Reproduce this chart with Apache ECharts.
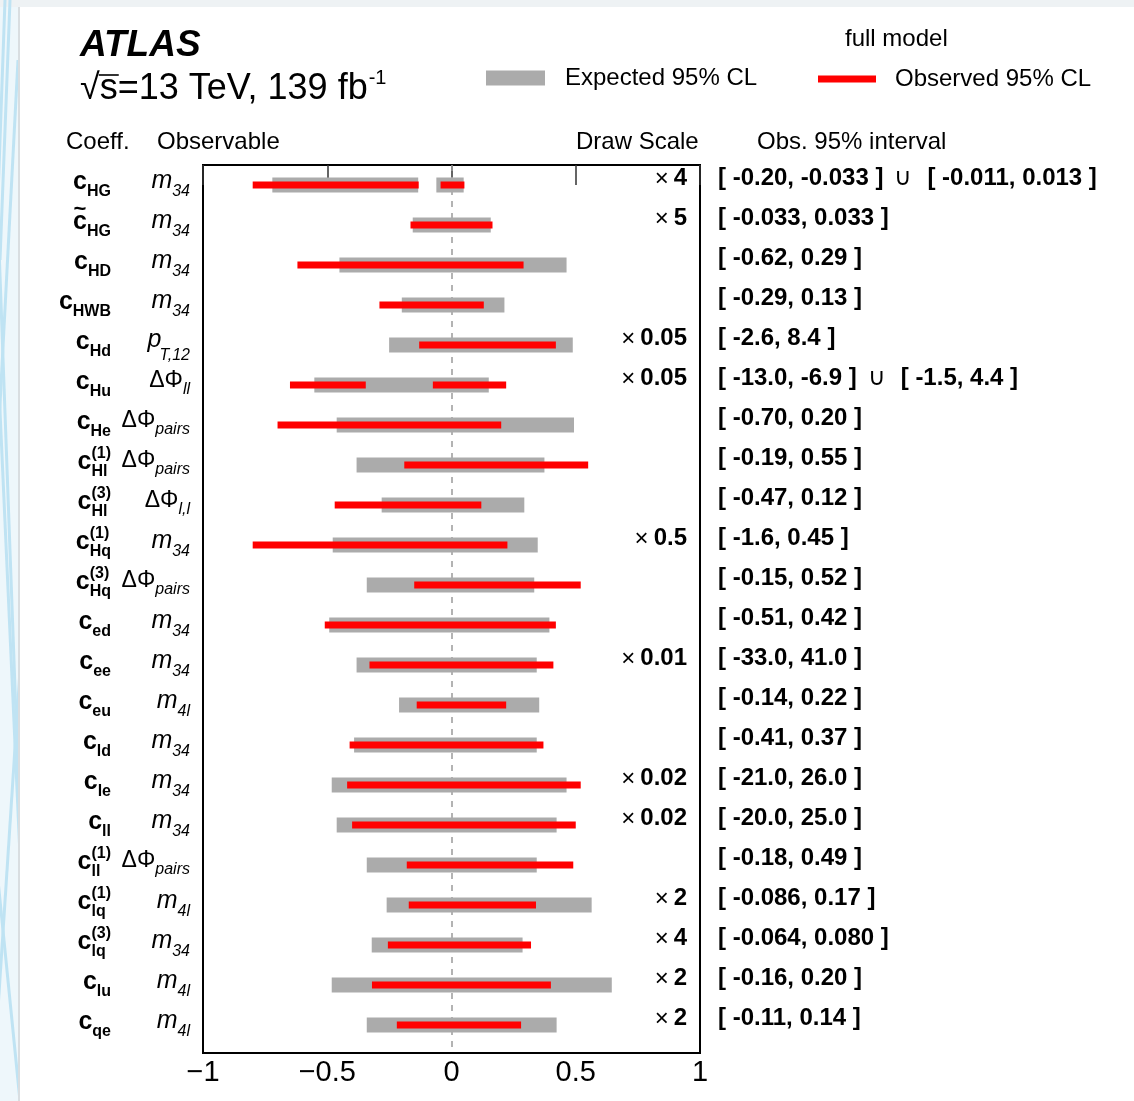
<!DOCTYPE html>
<html>
<head>
<meta charset="utf-8">
<title>ATLAS SMEFT limits</title>
<script src="https://cdn.jsdelivr.net/npm/echarts@6/dist/echarts.min.js"></script>
<style>
html,body{margin:0;padding:0;background:#fff;}
#chart{width:1134px;height:1101px;}
</style>
</head>
<body>
<div id="chart"></div>
<script>
// ---------------- data ----------------
const coeffSub = ['HG','HG','HD','HWB','Hd','Hu','He','Hl','Hl','Hq','Hq','ed','ee','eu','ld','le','ll','ll','lq','lq','lu','qe'];
const coeffSup = ['','','','','','','','(1)','(3)','(1)','(3)','','','','','','','(1)','(1)','(3)','',''];
const coeffTilde = [false,true,false,false,false,false,false,false,false,false,false,false,false,false,false,false,false,false,false,false,false,false];
const obsBase = ['m','m','m','m','p','ΔΦ','ΔΦ','ΔΦ','ΔΦ','m','ΔΦ','m','m','m','m','m','m','ΔΦ','m','m','m','m'];
const obsSub  = ['34','34','34','34','T,12','ll','pairs','pairs','l,l','34','pairs','34','34','4l','34','34','34','pairs','4l','34','4l','4l'];
const drawScale   = [4,5,1,1,0.05,0.05,1,1,1,0.5,1,1,0.01,1,1,0.02,0.02,1,2,4,2,2];
const scaleLabels = ['4','5','','','0.05','0.05','','','','0.5','','','0.01','','','0.02','0.02','','2','4','2','2'];
// observed 95% CL intervals (true coefficient values)
const obsIntervals = [
  [[-0.20,-0.033],[-0.011,0.013]], [[-0.033,0.033]], [[-0.62,0.29]], [[-0.29,0.13]],
  [[-2.6,8.4]], [[-13.0,-6.9],[-1.5,4.4]], [[-0.70,0.20]], [[-0.19,0.55]],
  [[-0.47,0.12]], [[-1.6,0.45]], [[-0.15,0.52]], [[-0.51,0.42]],
  [[-33.0,41.0]], [[-0.14,0.22]], [[-0.41,0.37]], [[-21.0,26.0]],
  [[-20.0,25.0]], [[-0.18,0.49]], [[-0.086,0.17]], [[-0.064,0.080]],
  [[-0.16,0.20]], [[-0.11,0.14]]
];
const intervalText = [
  ['[ -0.20, -0.033 ]','[ -0.011, 0.013 ]'], ['[ -0.033, 0.033 ]'], ['[ -0.62, 0.29 ]'], ['[ -0.29, 0.13 ]'],
  ['[ -2.6, 8.4 ]'], ['[ -13.0, -6.9 ]','[ -1.5, 4.4 ]'], ['[ -0.70, 0.20 ]'], ['[ -0.19, 0.55 ]'],
  ['[ -0.47, 0.12 ]'], ['[ -1.6, 0.45 ]'], ['[ -0.15, 0.52 ]'], ['[ -0.51, 0.42 ]'],
  ['[ -33.0, 41.0 ]'], ['[ -0.14, 0.22 ]'], ['[ -0.41, 0.37 ]'], ['[ -21.0, 26.0 ]'],
  ['[ -20.0, 25.0 ]'], ['[ -0.18, 0.49 ]'], ['[ -0.086, 0.17 ]'], ['[ -0.064, 0.080 ]'],
  ['[ -0.16, 0.20 ]'], ['[ -0.11, 0.14 ]']
];
// expected 95% CL intervals, as drawn (already multiplied by draw scale)
const expIntervals = [
  [[-0.721,-0.134],[-0.061,0.049]], [[-0.156,0.158]], [[-0.451,0.463]], [[-0.200,0.213]],
  [[-0.251,0.488]], [[-0.552,0.150]], [[-0.462,0.493]], [[-0.382,0.374]],
  [[-0.281,0.293]], [[-0.478,0.347]], [[-0.341,0.333]], [[-0.492,0.394]],
  [[-0.382,0.343]], [[-0.211,0.353]], [[-0.392,0.343]], [[-0.482,0.463]],
  [[-0.462,0.423]], [[-0.341,0.343]], [[-0.261,0.564]], [[-0.321,0.286]],
  [[-0.482,0.645]], [[-0.341,0.423]]
];
const xTicks = [-1, -0.5, 0, 0.5, 1];

// ---------------- helpers ----------------
const FONT = '"Liberation Sans", Arial, Helvetica, sans-serif';
const mctx = document.createElement('canvas').getContext('2d');
function fnt(size, weight, style) { return (style || 'normal') + ' ' + (weight || 'normal') + ' ' + size + 'px ' + FONT; }
function tw(text, font) { mctx.font = font; return mctx.measureText(text).width; }
// text placed by its alphabetic baseline
function T(text, x, baseline, size, weight, style, align, color) {
  const a = align || 'left';
  return {
    type: 'text', silent: true,
    style: {
      text: text, x: x, y: baseline - 0.3465 * size + 2,
      font: fnt(size, weight, style), fill: color || '#000',
      align: a, verticalAlign: 'middle', textAlign: a, textVerticalAlign: 'middle'
    }
  };
}

const expData = [];
expIntervals.forEach((iv, r) => iv.forEach(p => expData.push([p[0], p[1], r])));
const obsData = [];
obsIntervals.forEach((iv, r) => iv.forEach(p => obsData.push([p[0] * drawScale[r], p[1] * drawScale[r], r])));
const rowData = coeffSub.map((_, i) => [0, i]);

function barRenderer(h, color) {
  return function (params, api) {
    const a = api.coord([api.value(0), api.value(2)]);
    const b = api.coord([api.value(1), api.value(2)]);
    return { type: 'rect', shape: { x: a[0], y: a[1] - h / 2, width: b[0] - a[0], height: h }, style: { fill: color } };
  };
}

function renderLabels(params, api) {
  const i = params.dataIndex;
  const yc = api.coord([0, i])[1];
  const ch = [];
  // coefficient name
  const subF = fnt(16, 'bold');
  const wStack = Math.max(tw(coeffSub[i], subF), coeffSup[i] ? tw(coeffSup[i], subF) : 0);
  const xs = 111 - wStack;
  const cy = yc + 3;
  ch.push(T('c', xs, cy + 1, 25, 'bold', null, 'right'));
  ch.push(T(coeffSub[i], xs, cy + 7, 16, 'bold'));
  if (coeffSup[i]) ch.push(T(coeffSup[i], xs, cy - 11, 16, 'bold'));
  if (coeffTilde[i]) {
    const cw = tw('c', fnt(25, 'bold'));
    ch.push(T('~', xs - cw / 2, cy - 12, 22, 'bold', null, 'center'));
  }
  // observable
  const oSubF = fnt(16, 'normal', 'italic');
  const wo = tw(obsSub[i], oSubF);
  const xo = 190 - wo;
  if (obsBase[i] === 'ΔΦ') {
    ch.push(T('ΔΦ', xo, cy - 1, 23, 'normal', 'normal', 'right'));
    ch.push(T(obsSub[i], xo, cy + 5, 16, 'normal', 'italic'));
  } else if (obsBase[i] === 'p') {
    ch.push(T('p', xo + 2, cy - 1, 25, 'normal', 'italic', 'right'));
    ch.push(T(obsSub[i], xo, cy + 11, 16, 'normal', 'italic'));
  } else {
    ch.push(T(obsBase[i], xo, cy, 25, 'normal', 'italic', 'right'));
    ch.push(T(obsSub[i], xo, cy + 7, 16, 'normal', 'italic'));
  }
  // draw scale
  if (scaleLabels[i]) {
    const nw = tw(scaleLabels[i], fnt(24, 'bold'));
    ch.push(T(scaleLabels[i], 687, yc, 24, 'bold', null, 'right'));
    ch.push(T('×', 687 - nw - 5, yc + 1, 24, 'normal', null, 'right'));
  }
  // observed interval text
  const parts = intervalText[i];
  ch.push(T(parts[0], 718, yc, 24, 'bold'));
  if (parts[1]) {
    const x1 = 718 + tw(parts[0], fnt(24, 'bold')) + 11;
    ch.push(T('∪', x1, yc, 24, 'normal'));
    ch.push(T(parts[1], x1 + 33, yc, 24, 'bold'));
  }
  return { type: 'group', children: ch };
}

// header graphics
const sqrtMain = '√s=13 TeV, 139 fb';
const sqrtW = tw(sqrtMain, fnt(36));
const radW = tw('√', fnt(36));
const sW = tw('√s', fnt(36));
const leftStripLines = [];
[[-10, 0, 30, 1101], [5, 0, -20, 700], [18, 60, -5, 500], [-5, 300, 22, 900], [22, 640, -8, 1101], [-8, 820, 20, 1101], [10, 0, 0, 260]].forEach(l => {
  leftStripLines.push({ type: 'line', silent: true, z: -9, shape: { x1: l[0], y1: l[1], x2: l[2], y2: l[3] }, style: { stroke: '#bfe3f3', lineWidth: 3 } });
});

const graphics = [
  { type: 'rect', silent: true, z: -10, shape: { x: 0, y: 0, width: 19, height: 1101 }, style: { fill: '#eef7fb' } },
  { type: 'rect', silent: true, z: -10, shape: { x: 0, y: 0, width: 1134, height: 7 }, style: { fill: '#eef2f4' } },
  ...leftStripLines,
  { type: 'rect', silent: true, z: -8, shape: { x: 19, y: 7, width: 1115, height: 1094 }, style: { fill: '#ffffff' } },
  { type: 'line', silent: true, z: -7, shape: { x1: 19, y1: 7, x2: 19, y2: 1101 }, style: { stroke: '#d9dee1', lineWidth: 2 } },
  T('ATLAS', 80, 57, 37, 'bold', 'italic'),
  T(sqrtMain, 80, 100, 36),
  { type: 'line', silent: true, shape: { x1: 80 + radW - 1, y1: 75, x2: 80 + sW + 1, y2: 75 }, style: { stroke: '#000', lineWidth: 1.6 } },
  T('-1', 80 + sqrtW + 1, 83, 20),
  T('full model', 845, 46, 24),
  T('Coeff.', 66, 149, 24),
  T('Observable', 157, 149, 24),
  T('Draw Scale', 576, 149, 24),
  T('Obs. 95% interval', 757, 149, 24)
];

const chart = echarts.init(document.getElementById('chart'), null, { renderer: 'canvas' });
const axisCommon = {
  type: 'value', min: -1, max: 1, interval: 0.5,
  axisLine: { show: false },
  axisTick: { show: true, inside: true, length: 14, lineStyle: { color: '#333', width: 1.5 } },
  splitLine: { show: false },
  minorTick: { show: false }
};
chart.setOption({
  animation: false,
  backgroundColor: '#ffffff',
  textStyle: { fontFamily: FONT },
  grid: { left: 203, right: 434, top: 165, bottom: 48, show: true, borderColor: '#000', borderWidth: 2, backgroundColor: 'transparent', containLabel: false, outerBoundsMode: 'none' },
  xAxis: [
    Object.assign({}, axisCommon, {
      position: 'bottom',
      axisLabel: {
        show: true, fontSize: 29, color: '#000', margin: 5, fontFamily: FONT,
        showMinLabel: true, showMaxLabel: true,
        formatter: v => (v < 0 ? '\u2212' + Math.abs(v) : String(v))
      }
    }),
    Object.assign({}, axisCommon, { position: 'top', axisLabel: { show: false } })
  ],
  yAxis: { type: 'value', inverse: true, min: -0.5, max: 21.7, show: false },
  legend: [
    { data: [{ name: 'Expected 95% CL', icon: 'rect' }], left: 486, top: 66, padding: 0, itemWidth: 59, itemHeight: 15, selectedMode: false,
      textStyle: { fontSize: 24, color: '#000', fontFamily: FONT, padding: [0, 0, 0, 15] } },
    { data: [{ name: 'Observed 95% CL', icon: 'rect' }], left: 818, top: 67, padding: 0, itemWidth: 58, itemHeight: 7, selectedMode: false,
      textStyle: { fontSize: 24, color: '#000', fontFamily: FONT, padding: [0, 0, 0, 14] } }
  ],
  graphic: { elements: graphics },
  series: [
    {
      name: 'Expected 95% CL', type: 'custom', z: 2, clip: false,
      itemStyle: { color: '#ababab' },
      encode: { x: [0, 1], y: 2 },
      renderItem: barRenderer(15, '#ababab'),
      data: expData,
      markLine: {
        silent: true, symbol: ['none', 'none'], label: { show: false }, z: 1,
        lineStyle: { color: '#9a9a9a', type: [6, 6], width: 1.5 },
        data: [{ xAxis: 0 }]
      }
    },
    {
      name: 'Observed 95% CL', type: 'custom', z: 3, clip: false,
      itemStyle: { color: '#ff0000' },
      encode: { x: [0, 1], y: 2 },
      renderItem: barRenderer(7, '#ff0000'),
      data: obsData
    },
    {
      name: 'labels', type: 'custom', z: 4, clip: false, silent: true,
      encode: { x: 0, y: 1 },
      renderItem: renderLabels,
      data: rowData
    }
  ]
});
</script>
</body>
</html>
